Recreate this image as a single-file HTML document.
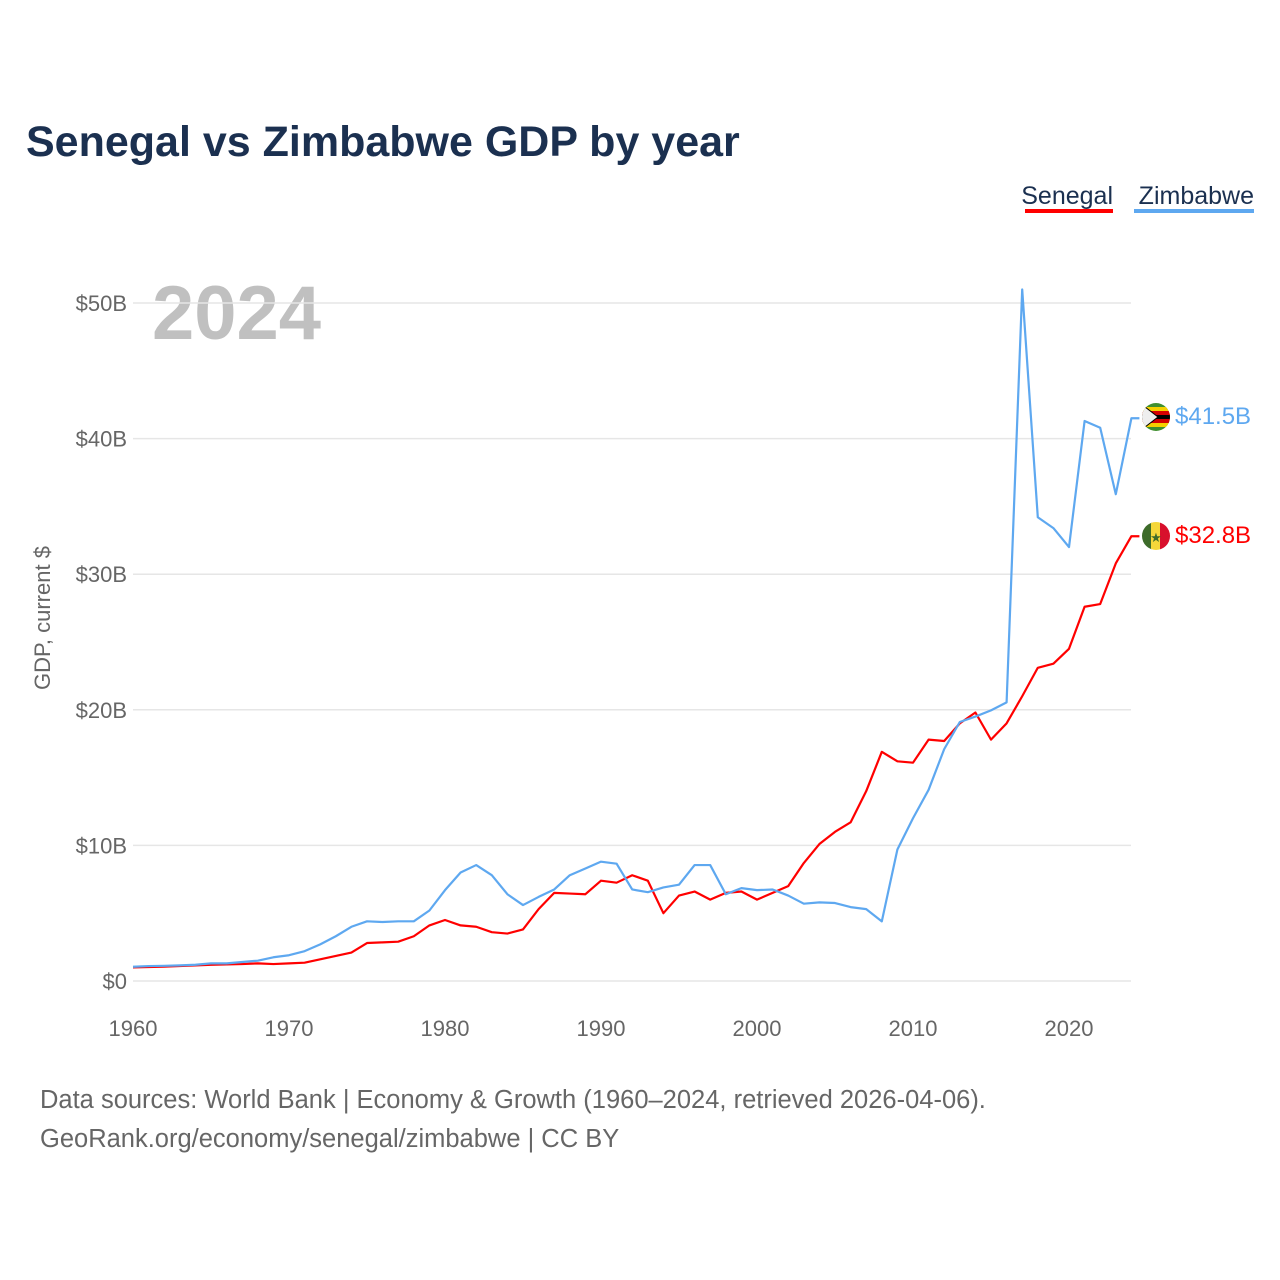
<!DOCTYPE html>
<html><head><meta charset="utf-8"><style>
body{margin:0;background:#fff;font-family:"Liberation Sans",sans-serif;}
#wrap{position:relative;width:1280px;height:1280px;overflow:hidden;}
</style></head><body>
<div id="wrap">
<svg id="chart" width="1280" height="1280">
<text x="26" y="156" font-size="43" font-weight="bold" fill="#1b3050">Senegal vs Zimbabwe GDP by year</text>
<g>
<text x="1113" y="204" font-size="25" fill="#1b3050" text-anchor="end">Senegal</text>
<rect x="1025" y="209" width="88" height="4" fill="#ff0000"/>
<text x="1254" y="204" font-size="25" fill="#1b3050" text-anchor="end">Zimbabwe</text>
<rect x="1134" y="209" width="120" height="4" fill="#5ea8f0"/>
</g>
<text x="152" y="339" font-size="76" font-weight="bold" fill="#c0c0c0">2024</text>
<text transform="translate(50,618) rotate(-90)" font-size="22" fill="#666" text-anchor="middle">GDP, current $</text>
<g id="grid"></g><g id="lines"></g>
<g>
<g>
<clipPath id="cz"><circle cx="1156" cy="417" r="14"/></clipPath>
<g clip-path="url(#cz)"><rect x="1140" y="403" width="32" height="28" fill="#3f8f2f"/><rect x="1140" y="407" width="32" height="4" fill="#f5d000"/><rect x="1140" y="411" width="32" height="4" fill="#d40000"/><rect x="1140" y="415" width="32" height="4" fill="#000"/><rect x="1140" y="419" width="32" height="4" fill="#d40000"/><rect x="1140" y="423" width="32" height="4" fill="#f5d000"/><polygon points="1140,403 1158,417 1140,431" fill="#eee" stroke="#000" stroke-width="1"/></g></g>
<text id="zlab" x="1175" y="424" font-size="24" fill="#5ea8f0">$41.5B</text>
<g>
<clipPath id="cs"><circle cx="1156" cy="536" r="14"/></clipPath>
<g clip-path="url(#cs)"><rect x="1142" y="522" width="10" height="28" fill="#3d6b2a"/><rect x="1151" y="522" width="10" height="28" fill="#f5d73a"/><rect x="1160" y="522" width="12" height="28" fill="#d8102c"/><text x="1156" y="542" font-size="13" fill="#3d6b2a" text-anchor="middle">★</text></g></g>
<text id="slab" x="1175" y="543" font-size="24" fill="#ff0000">$32.8B</text>
</g>
<text x="40" y="1108" font-size="25.5" fill="#666">Data sources: World Bank | Economy &amp; Growth (1960–2024, retrieved 2026-04-06).</text>
<text x="40" y="1147" font-size="25.5" fill="#666">GeoRank.org/economy/senegal/zimbabwe | CC BY</text>
</svg>
</div>
<script>
const years=[];for(let y=1960;y<=2024;y++)years.push(y);
const senegal=[1.0,1.03,1.06,1.1,1.15,1.2,1.22,1.25,1.3,1.25,1.3,1.35,1.6,1.85,2.1,2.8,2.85,2.9,3.3,4.1,4.5,4.1,4.0,3.6,3.5,3.8,5.3,6.5,6.45,6.4,7.4,7.25,7.8,7.4,5.0,6.3,6.6,6.0,6.5,6.6,6.0,6.5,7.0,8.7,10.1,11.0,11.7,14.0,16.9,16.2,16.1,17.8,17.7,19.0,19.8,17.8,19.0,21.0,23.1,23.4,24.5,27.6,27.8,30.8,32.8];
const zimbabwe=[1.05,1.1,1.12,1.15,1.2,1.3,1.3,1.4,1.5,1.75,1.9,2.2,2.7,3.3,4.0,4.4,4.35,4.4,4.4,5.2,6.7,8.0,8.55,7.8,6.4,5.6,6.2,6.75,7.8,8.3,8.8,8.65,6.75,6.55,6.9,7.1,8.55,8.55,6.4,6.85,6.7,6.75,6.3,5.7,5.8,5.75,5.45,5.3,4.4,9.7,12.0,14.1,17.1,19.1,19.5,19.96,20.55,51.0,34.2,33.4,32.0,41.3,40.8,35.9,41.5];
const yTicks=[0,10,20,30,40,50];
const yTickLabels=["$0","$10B","$20B","$30B","$40B","$50B"];
const xTicks=[1960,1970,1980,1990,2000,2010,2020];
const NS="http://www.w3.org/2000/svg";
const x=v=>133+(v-1960)*15.6;
const y=v=>981-v*13.56;
const grid=document.getElementById('grid'),lines=document.getElementById('lines');
yTicks.forEach((t,i)=>{
const l=document.createElementNS(NS,'line');


l.setAttribute('x1',133);l.setAttribute('x2',1131);l.setAttribute('y1',y(t));l.setAttribute('y2',y(t));
l.setAttribute('stroke','#e6e6e6');l.setAttribute('stroke-width','1.5');grid.appendChild(l);
const tx=document.createElementNS(NS,'text');


tx.setAttribute('x',127);tx.setAttribute('y',y(t)+8);tx.setAttribute('text-anchor','end');
tx.setAttribute('font-size','22');tx.setAttribute('fill','#666');tx.textContent=yTickLabels[i];grid.appendChild(tx);
});
xTicks.forEach(t=>{
const tx=document.createElementNS(NS,'text');


tx.setAttribute('x',x(t));tx.setAttribute('y',1036);tx.setAttribute('text-anchor','middle');
tx.setAttribute('font-size','22');tx.setAttribute('fill','#666');tx.textContent=t;grid.appendChild(tx);
});
function draw(vals,color,name){
const p=document.createElementNS(NS,'polyline');


p.setAttribute('points',vals.map((v,i)=>x(years[i])+','+y(v)).join(' ')+' '+(x(2024)+8)+','+y(vals[vals.length-1]));
p.setAttribute('fill','none');p.setAttribute('stroke',color);p.setAttribute('stroke-width','2.2');
p.setAttribute('stroke-linejoin','round');lines.appendChild(p);
}
draw(senegal,'#ff0000','senegal-line');
draw(zimbabwe,'#5ea8f0','zimbabwe-line');
</script>
</body></html>
